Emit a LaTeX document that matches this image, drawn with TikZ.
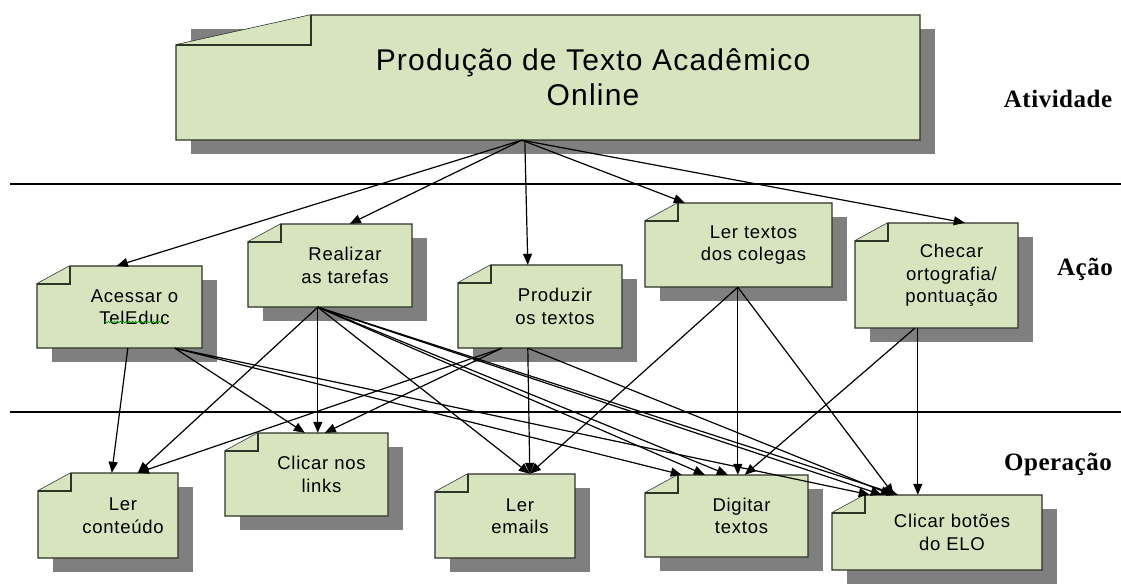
\documentclass[tikz,border=0pt]{standalone}
\usepackage{fontspec}
\usetikzlibrary{arrows.meta,calc,decorations.pathmorphing}
\newfontfamily\bxf[LetterSpace=4]{Liberation Sans}
\newfontfamily\lbf[LetterSpace=2]{Liberation Serif}
\definecolor{boxgreen}{HTML}{D7E4BD}
\definecolor{shadowgray}{HTML}{7F7F7F}
\definecolor{edgec}{HTML}{2E3328}
\tikzset{
  shd/.style={fill=shadowgray},
  nb/.style={draw=edgec,line width=1.4pt,fill=boxgreen,line join=miter},
  txt/.style={font=\bxf\fontsize{18.5}{22.5}\selectfont,align=center,inner sep=0},
  ttl/.style={font=\bxf\fontsize{30}{35}\selectfont,align=center,inner sep=0,xshift=30pt},
  lvl/.style={font=\lbf\bfseries\fontsize{25}{28}\selectfont,inner sep=0,anchor=base},
  arr/.style={draw=black,line width=1.2pt,-{Triangle[length=11pt,width=9pt]}},
  sep/.style={draw=black,line width=2pt}
}
\newcommand\nbox[9]{% name, L, T, R, B, fold w, fold h, text, style
  \fill[shd] (#2+15,#3+14) rectangle (#4+15,#5+14);
  \node[inner sep=0,minimum width={(#4-#2)*1pt},minimum height={(#5-#3)*1pt}] (#1) at ({(#2+#4)/2},{(#3+#5)/2}) {};
  \path[nb] (#2,#3+#7) -- (#2+#6,#3) -- (#4,#3) -- (#4,#5) -- (#2,#5) -- cycle;
  \path[nb] (#2,#3+#7) -- (#2+#6,#3+#7) -- (#2+#6,#3);
  \node[#9] (#1-t) at ({(#2+#4)/2+15},{(#3+#5)/2}) {#8};
}
\begin{document}
\begin{tikzpicture}[x=1pt,y=-1pt]
\useasboundingbox (0,0) rectangle (1121,585);
\fill[white] (0,0) rectangle (1121,585);
% level separators
\coordinate (s1a) at (10,184); \coordinate (s1b) at (1121,184);
\coordinate (s2a) at (10,412); \coordinate (s2b) at (1121,412);
\draw[sep] (s1a) -- (s1b);
\draw[sep] (s2a) -- (s2b);
% level labels
\node[lvl] (latv) at (1058,108) {Atividade};
\node[lvl] (lacao) at (1085,276) {Ação};
\node[lvl] (lop) at (1058,470) {Operação};
% boxes
\nbox{top}{176}{15}{920}{140}{135}{30}{Produção de Texto Acadêmico\\Online}{ttl}
\nbox{acessar}{37}{266}{202}{348}{33}{18}{Acessar o\\TelEduc}{txt}
\nbox{realizar}{248}{224}{412}{307}{33}{18}{Realizar\\as tarefas}{txt}
\nbox{produzir}{458}{265}{622}{348}{33}{18}{Produzir\\os textos}{txt}
\nbox{lertextos}{645}{203}{832}{287}{33}{18}{Ler textos\\dos colegas}{txt}
\nbox{checar}{855}{223}{1018}{328}{33}{18}{Checar\\ortografia/\\pontuação}{txt}
\nbox{lerconteudo}{38}{473}{178}{558}{33}{18}{Ler\\conteúdo}{txt}
\nbox{clicar}{225}{433}{388}{516}{33}{18}{Clicar nos\\links}{txt}
\nbox{leremails}{435}{474}{575}{558}{33}{18}{Ler\\emails}{txt}
\nbox{digitar}{645}{475}{808}{557}{33}{18}{Digitar\\textos}{txt}
\nbox{botoes}{832}{495}{1042}{570}{33}{18}{Clicar botões\\do ELO}{txt}
% spell-check underline under TelEduc
\draw[green!60!black,line width=0.6pt,decorate,decoration={snake,amplitude=0.8pt,segment length=3pt}] ([xshift=-30pt,yshift=-15pt]acessar-t.center) -- ([xshift=28pt,yshift=-15pt]acessar-t.center);
% Atividade -> Acoes
\draw[arr] ([xshift=346pt]top.south west) -- ([xshift=80pt]acessar.north west);
\draw[arr] ([xshift=346pt]top.south west) -- ([xshift=102pt]realizar.north west);
\draw[arr] ([xshift=349pt]top.south west) -- ([xshift=70pt]produzir.north west);
\draw[arr] ([xshift=346pt]top.south west) -- ([xshift=40pt]lertextos.north west);
\draw[arr] ([xshift=346pt]top.south west) -- ([xshift=110pt]checar.north west);
% Acessar -> operacoes
\draw[arr] ([xshift=91pt]acessar.south west) -- ([xshift=74pt]lerconteudo.north west);
\draw[arr] ([xshift=138pt]acessar.south west) -- ([xshift=80pt]clicar.north west);
\draw[arr] ([xshift=138pt]acessar.south west) -- ([xshift=37pt]digitar.north west);
\draw[arr] ([xshift=138pt]acessar.south west) -- ([xshift=38pt]botoes.north west);
% Realizar -> operacoes
\draw[arr] ([xshift=70pt]realizar.south west) -- ([xshift=100pt]lerconteudo.north west);
\draw[arr] ([xshift=70pt]realizar.south west) -- ([xshift=93pt]clicar.north west);
\draw[arr] ([xshift=70pt]realizar.south west) -- ([xshift=95pt]leremails.north west);
\draw[arr] ([xshift=70pt]realizar.south west) -- ([xshift=60pt]digitar.north west);
\draw[arr] ([xshift=70pt]realizar.south west) -- ([xshift=83pt]digitar.north west);
\draw[arr] ([xshift=70pt]realizar.south west) -- ([xshift=50pt]botoes.north west);
\draw[arr] ([xshift=70pt]realizar.south west) -- ([xshift=66pt]botoes.north west);
% Produzir -> operacoes
\draw[arr] ([xshift=44pt]produzir.south west) -- ([xshift=100pt]lerconteudo.north west);
\draw[arr] ([xshift=44pt]produzir.south west) -- ([xshift=100pt]clicar.north west);
\draw[arr] ([xshift=70pt]produzir.south west) -- ([xshift=95pt]leremails.north west);
\draw[arr] ([xshift=70pt]produzir.south west) -- ([xshift=60pt]botoes.north west);
% Ler textos -> operacoes
\draw[arr] ([xshift=93pt]lertextos.south west) -- ([xshift=95pt]leremails.north west);
\draw[arr] ([xshift=93pt]lertextos.south west) -- ([xshift=93pt]digitar.north west);
\draw[arr] ([xshift=93pt]lertextos.south west) -- ([xshift=62pt]botoes.north west);
% Checar -> operacoes
\draw[arr] ([xshift=60pt]checar.south west) -- ([xshift=100pt]digitar.north west);
\draw[arr] ([xshift=63pt]checar.south west) -- ([xshift=86pt]botoes.north west);
\end{tikzpicture}
\end{document}
